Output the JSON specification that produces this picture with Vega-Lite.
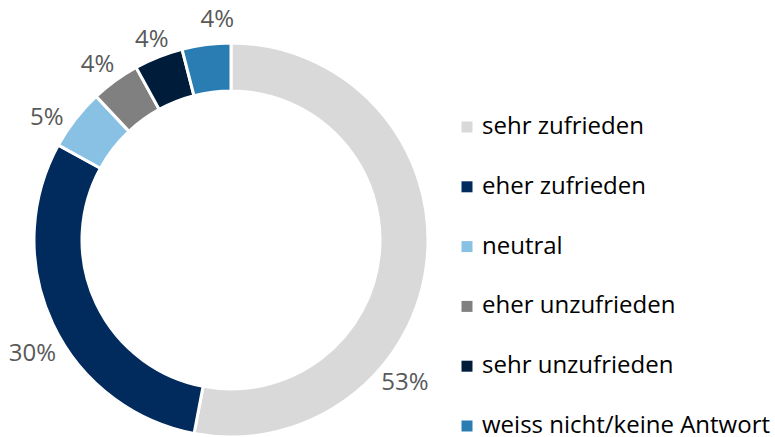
{
  "$schema": "https://vega.github.io/schema/vega-lite/v6.json",
  "autosize": {"type": "none"},
  "width": 462,
  "height": 392,
  "padding": {"left": 0, "top": 44, "right": 313, "bottom": 1},
  "background": "white",
  "config": {"view": {"stroke": null}, "text": {"font": "Open Sans", "fontSize": 24, "color": "#595959"}},
  "data": {
    "values": [
      {"cat": "sehr zufrieden", "value": 53, "order": 1},
      {"cat": "eher zufrieden", "value": 30, "order": 2},
      {"cat": "neutral", "value": 5, "order": 3},
      {"cat": "eher unzufrieden", "value": 4, "order": 4},
      {"cat": "sehr unzufrieden", "value": 4, "order": 5},
      {"cat": "weiss nicht/keine Antwort", "value": 4, "order": 6}
    ]
  },
  "transform": [{"calculate": "datum.value + '%'", "as": "pct"}],
  "encoding": {
    "theta": {"field": "value", "type": "quantitative", "stack": true},
    "order": {"field": "order", "type": "quantitative"}
  },
  "layer": [
    {
      "mark": {"type": "arc", "outerRadius": 197, "innerRadius": 149, "stroke": "white", "strokeWidth": 3},
      "encoding": {
        "color": {
          "field": "cat",
          "type": "nominal",
          "sort": null,
          "scale": {
            "domain": ["sehr zufrieden", "eher zufrieden", "neutral", "eher unzufrieden", "sehr unzufrieden", "weiss nicht/keine Antwort"],
            "range": ["#D9D9D9", "#002B5C", "#89C1E5", "#808080", "#001C3B", "#2A7DB3"]
          },
          "legend": {
            "title": null,
            "orient": "none",
            "legendX": 455,
            "legendY": 71,
            "padding": 0,
            "symbolType": "square",
            "symbolSize": 121,
            "symbolStrokeWidth": 0,
            "labelFont": "Open Sans",
            "labelFontSize": 24,
            "labelColor": "#000000",
            "labelOffset": 3,
            "rowPadding": 35.8,
            "labelLimit": 400
          }
        }
      }
    },
    {
      "mark": {"type": "text", "radius": 225, "thetaOffset": 0.593},
      "encoding": {"text": {"condition": {"test": "datum.cat !== 'sehr zufrieden'", "value": ""}, "field": "pct", "type": "nominal"}}
    },
    {
      "mark": {"type": "text", "radius": 229, "thetaOffset": -0.082},
      "encoding": {"text": {"condition": {"test": "datum.cat !== 'eher zufrieden'", "value": ""}, "field": "pct", "type": "nominal"}}
    },
    {
      "mark": {"type": "text", "radius": 221, "thetaOffset": -0.075},
      "encoding": {"text": {"condition": {"test": "datum.cat !== 'neutral'", "value": ""}, "field": "pct", "type": "nominal"}}
    },
    {
      "mark": {"type": "text", "radius": 220, "thetaOffset": -0.024},
      "encoding": {"text": {"condition": {"test": "datum.cat !== 'eher unzufrieden'", "value": ""}, "field": "pct", "type": "nominal"}}
    },
    {
      "mark": {"type": "text", "radius": 215, "thetaOffset": 0},
      "encoding": {"text": {"condition": {"test": "datum.cat !== 'sehr unzufrieden'", "value": ""}, "field": "pct", "type": "nominal"}}
    },
    {
      "mark": {"type": "text", "radius": 220, "thetaOffset": 0.063},
      "encoding": {"text": {"condition": {"test": "datum.cat !== 'weiss nicht/keine Antwort'", "value": ""}, "field": "pct", "type": "nominal"}}
    }
  ]
}
